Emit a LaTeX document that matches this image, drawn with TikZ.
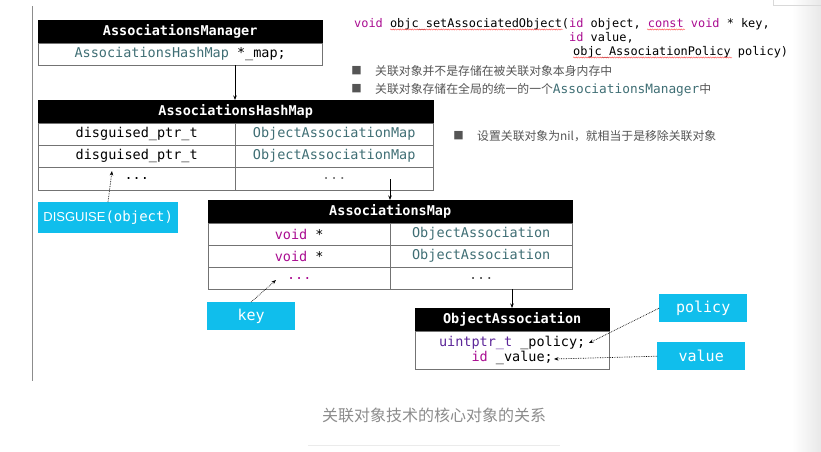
\documentclass[tikz,border=0pt]{standalone}
\usepackage{fontspec}
\setmonofont{DejaVu Sans Mono}
\setsansfont{Liberation Sans}
\newfontfamily\cjk{Noto Sans CJK SC}
\newfontfamily\symfont{DejaVu Sans}
\usetikzlibrary{arrows.meta, decorations.pathmorphing}

\definecolor{xcodeTeal}{RGB}{63,110,116}
\definecolor{xcodeKey}{RGB}{170,13,145}
\definecolor{xcodeType}{RGB}{92,38,153}
\definecolor{tagCyan}{RGB}{16,190,236}
\definecolor{noteGray}{RGB}{85,85,85}

\newcommand{\tblfont}{\ttfamily\fontsize{13.5}{15}\selectfont}
\newcommand{\codefont}{\ttfamily\fontsize{11.9}{14}\selectfont}
\newcommand{\notefont}{\cjk\fontsize{11.85}{14}\selectfont}

\begin{document}
\begin{tikzpicture}[x=1pt, y=-1pt,
    head/.style={draw=black, fill=black, text=white, anchor=north west, inner sep=0pt,
                 minimum height=23pt, font=\tblfont\bfseries},
    cell/.style={draw=black!55, anchor=north west, inner sep=0pt, minimum height=22pt, font=\tblfont},
    tag/.style={fill=tagCyan, text=white, anchor=north west, inner sep=0pt,
                font=\ttfamily\fontsize{15}{16}\selectfont},
    note/.style={anchor=base west, inner sep=0pt, text=noteGray, font=\notefont},
    bullet/.style={inner sep=0pt, text=noteGray, font=\symfont\fontsize{11}{12}\selectfont},
    sig/.style={anchor=base west, inner sep=0pt, font=\codefont},
    link/.style={-{Stealth[length=4.5pt, width=3.5pt]}, line width=0.8pt},
    hint/.style={-{Stealth[length=4.5pt, width=3.5pt]}, densely dotted, line width=0.7pt},
    typo/.style={decorate, decoration={snake, amplitude=0.6pt, segment length=2.4pt},
                 draw=red!75, line width=0.4pt}
]

    % Page frame
    \useasboundingbox (0,0) rectangle (821,451);
    \shade[left color=white, right color=black!9] (792,0) rectangle (821,451);
    \draw[black!15] (773,-1) -- (773,5) -- (821,5);
    \draw[black!45, line width=0.8pt] (32,6) -- (32,381);

    % AssociationsManager
    \node[head, minimum width=284pt] (mgrHead) at (38,20) {AssociationsManager};
    \node[cell, minimum width=284pt] (mgrRow) at (38,43)
        {\textcolor{xcodeTeal}{AssociationsHashMap} *\_map;};

    % AssociationsHashMap
    \node[head, minimum width=395pt] (hmHead) at (38,100) {AssociationsHashMap};
    \node[cell, minimum width=197pt] (hmKeyA) at (38,123) {disguised\_ptr\_t};
    \node[cell, minimum width=198pt] (hmValA) at (235,123) {\textcolor{xcodeTeal}{ObjectAssociationMap}};
    \node[cell, minimum width=197pt] (hmKeyB) at (38,145) {disguised\_ptr\_t};
    \node[cell, minimum width=198pt] (hmValB) at (235,145) {\textcolor{xcodeTeal}{ObjectAssociationMap}};
    \node[cell, minimum width=197pt, minimum height=23pt] (hmKeyC) at (38,167) {...};
    \node[cell, minimum width=198pt, minimum height=23pt, text=black!55] (hmValC) at (235,167) {...};

    % AssociationsMap
    \node[head, minimum width=364pt] (mapHead) at (208,200) {AssociationsMap};
    \node[cell, minimum width=182pt] (mapKeyA) at (208,223) {\textcolor{xcodeKey}{void} *};
    \node[cell, minimum width=182pt] (mapValA) at (390,223) {\textcolor{xcodeTeal}{ObjectAssociation}};
    \node[cell, minimum width=182pt] (mapKeyB) at (208,245) {\textcolor{xcodeKey}{void} *};
    \node[cell, minimum width=182pt] (mapValB) at (390,245) {\textcolor{xcodeTeal}{ObjectAssociation}};
    \node[cell, minimum width=182pt, text=xcodeKey] (mapKeyC) at (208,267) {...};
    \node[cell, minimum width=182pt, text=black!70] (mapValC) at (390,267) {...};

    % ObjectAssociation
    \node[head, minimum width=194pt] (oaHead) at (415,308) {ObjectAssociation};
    \node[cell, minimum width=194pt, minimum height=38pt, align=center] (oaBody) at (415,331)
        {\textcolor{xcodeType}{uintptr\_t} \_policy;\\\textcolor{xcodeKey}{id} \_value;};

    % Cyan tags
    \node[tag, minimum width=140pt, minimum height=31pt] (disguiseTag) at (38,202)
        {{\sffamily\fontsize{13}{15}\selectfont DISGUISE}{\fontsize{14}{15}\selectfont(object)}};
    \node[tag, minimum width=88pt, minimum height=28pt] (keyTag) at (207,302) {key};
    \node[tag, minimum width=88pt, minimum height=28pt] (policyTag) at (659,294) {policy};
    \node[tag, minimum width=88pt, minimum height=28pt] (valueTag) at (657,342) {value};

    % Arrow ends
    \coordinate (mgrOut)      at (235,65);
    \coordinate (hmOut)       at (390,179);
    \coordinate (mapOut)      at (512,289);
    \coordinate (disguiseFoot) at (108,202);
    \coordinate (disguiseTip) at (112,171);
    \coordinate (keyTip)      at (276,280);
    \coordinate (policyTip)   at (589,343);
    \coordinate (valueTip)    at (554,359);

    % Pointers between the tables
    \draw[link] (mgrOut) -- (mgrOut |- hmHead.north);
    \draw[link] (hmOut) -- (hmOut |- mapHead.north);
    \draw[link] (mapOut) -- (mapOut |- oaHead.north);

    % Dotted hints from the tags
    \draw[hint] (disguiseFoot) -- (disguiseTip);
    \draw[hint] (keyTag.north) -- (keyTip);
    \draw[hint] (policyTag.west) -- (policyTip);
    \draw[hint] (valueTag.west) -- (valueTip);

    % Function signature
    \node[sig] (sigA) at (354,27.3) {\textcolor{xcodeKey}{void} objc\_setAssociatedObject(\textcolor{xcodeKey}{id} object, \textcolor{xcodeKey}{const} \textcolor{xcodeKey}{void} * key,};
    \node[sig] (sigB) at (569,41) {\textcolor{xcodeKey}{id} value,};
    \node[sig] (sigC) at (573,55) {objc\_AssociationPolicy policy)};
    \draw[typo] (390,29.5) -- (563,29.5);
    \draw[typo] (647,29.5) -- (685,29.5);
    \draw[typo] (573,57.5) -- (732,57.5);

    % Notes
    \node[bullet] (dotA) at (356.5,71) {■};
    \node[note] (noteA) at (375,75.6) {关联对象并不是存储在被关联对象本身内存中};
    \node[bullet] (dotB) at (356.5,89) {■};
    \node[note] (noteB) at (375,93.6)
        {关联对象存储在全局的统一的一个{\ttfamily\fontsize{12.8}{14}\selectfont\color{xcodeTeal}AssociationsManager}中};
    \node[bullet] (dotC) at (458.5,136) {■};
    \node[note] (noteC) at (477,140.6) {设置关联对象为nil，就相当于是移除关联对象};

    % Caption
    \node[font=\cjk\fontsize{16}{18}\selectfont, text=black!45] (caption) at (434,415) {关联对象技术的核心对象的关系};
    \draw[black!8, line width=0.8pt] (308,445) -- (560,445);

\end{tikzpicture}
\end{document}
